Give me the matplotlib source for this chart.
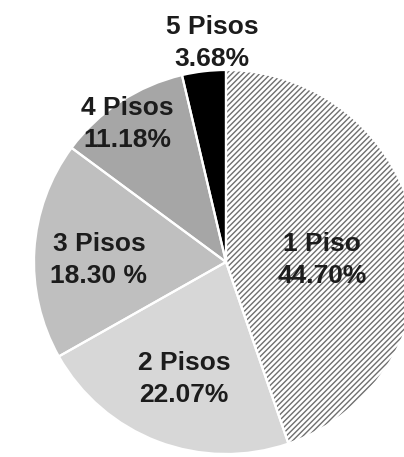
import matplotlib
matplotlib.use("Agg")
import matplotlib.pyplot as plt

# Distribution of buildings by number of floors
categories = ["1 Piso", "2 Pisos", "3 Pisos", "4 Pisos", "5 Pisos"]
shares = [44.70, 22.07, 18.30, 11.18, 3.68]
pct_labels = ["44.70%", "22.07%", "18.30 %", "11.18%", "3.68%"]

colors = ["#ffffff", "#d7d7d7", "#bfbfbf", "#a6a6a6", "#000000"]

W, H = 404, 457
plt.rcParams["font.family"] = ["Liberation Sans", "DejaVu Sans"]
plt.rcParams["hatch.linewidth"] = 1.0
plt.rcParams["hatch.color"] = "#6e6e6e"

fig = plt.figure(figsize=(W / 100, H / 100), dpi=100)
ax = fig.add_axes([0, 0, 1, 1])

cx, cy, r = 226, H - 262, 192

wedges, _ = ax.pie(shares, colors=colors, startangle=90, counterclock=False,
                   center=(cx, cy), radius=r, frame=True,
                   wedgeprops=dict(linewidth=0))
wedges[0].set_hatch("//////")
wedges[0].set_edgecolor("#6e6e6e")
wedges[0].set_linewidth(0)

# white separators between slices
ax.pie(shares, colors=["none"] * len(shares), startangle=90, counterclock=False,
       center=(cx, cy), radius=r, frame=True,
       wedgeprops=dict(linewidth=1.6, edgecolor="white", fill=False))
ax.set_xlim(0, W)
ax.set_ylim(0, H)
ax.set_aspect("equal")
ax.axis("off")

# label anchor positions (pixel coordinates, top-origin)
label_pos = [(322, 260), (184, 379), (99, 260), (127, 124), (212, 43)]
for name, pct, (x, y) in zip(categories, pct_labels, label_pos):
    ax.text(x, H - y, f"{name}\n{pct}", ha="center", va="center",
            fontsize=19, fontweight="bold", color="#1c1c1c",
            linespacing=1.38)

fig.savefig("out.png", dpi=100)
